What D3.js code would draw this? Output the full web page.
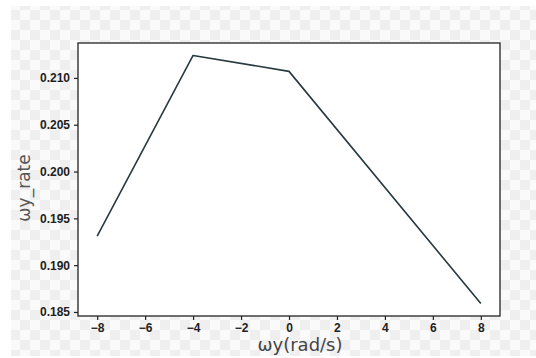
<!DOCTYPE html>
<meta charset="utf-8">
<html>
<head>
<style>
    body { margin: 0; background: #fff; }
    svg { display: block; font-family: "DejaVu Sans", sans-serif; }
</style>
</head>
<body>
<svg width="536" height="358" id="chart"></svg>
<script src="https://d3js.org/d3.v7.min.js"></script>
<script>
    // data
    var wy = [-8, -4, 0, 8];
    var rate = [0.1931, 0.2124, 0.2107, 0.1859];
    var xTicks = [-8, -6, -4, -2, 0, 2, 4, 6, 8];
    var yTicks = [0.185, 0.190, 0.195, 0.200, 0.205, 0.210];

    var svg = d3.select("#chart");
    var margin = { top: 43, right: 36, bottom: 42, left: 78 },
        width = 536 - margin.left - margin.right,
        height = 358 - margin.top - margin.bottom;

    // faint checkerboard behind everything (transparent png look)
    var defs = svg.append("defs");
    var pat = defs.append("pattern")
        .attr("id", "checker")
        .attr("width", 20).attr("height", 20)
        .attr("patternUnits", "userSpaceOnUse");
    pat.append("rect").attr("width", 20).attr("height", 20).attr("fill", "#fafafa");
    pat.append("rect").attr("width", 10).attr("height", 10).attr("fill", "#efefef");
    pat.append("rect").attr("x", 10).attr("y", 10).attr("width", 10).attr("height", 10).attr("fill", "#efefef");
    svg.append("rect")
        .attr("x", 11).attr("y", 6)
        .attr("width", 525).attr("height", 350)
        .attr("fill", "url(#checker)");

    var x = d3.scaleLinear().domain([-8.8, 8.8]).range([0, width]);
    var y = d3.scaleLinear().domain([0.18457, 0.21373]).range([height, 0]);

    var g = svg.append("g")
        .attr("transform", "translate(" + margin.left + "," + margin.top + ")");

    g.append("rect")
        .attr("width", width).attr("height", height)
        .attr("fill", "#fff");

    /* line */
    var line = d3.line()
        .x(function (d, i) { return x(wy[i]); })
        .y(function (d) { return y(d); });
    g.append("path")
        .datum(rate)
        .attr("d", line)
        .attr("fill", "none")
        .attr("stroke", "#263a40")
        .attr("stroke-width", 1.6)
        .attr("stroke-linejoin", "round");

    /* axes */
    var xAxis = g.append("g")
        .attr("transform", "translate(0," + height + ")")
        .call(d3.axisBottom(x).tickValues(xTicks).tickSize(4).tickPadding(3)
            .tickFormat(function (d) { return d < 0 ? "\u2212" + Math.abs(d) : d; }));
    var yAxis = g.append("g")
        .call(d3.axisLeft(y).tickValues(yTicks).tickSize(4).tickPadding(4)
            .tickFormat(d3.format(".3f")));

    [xAxis, yAxis].forEach(function (a) {
        a.select(".domain").remove();
        a.selectAll("line").attr("stroke", "#222").attr("stroke-width", 1.2);
        a.selectAll("text")
            .attr("fill", "#1e1e1e")
            .style("font-size", "12px")
            .style("font-weight", "600");
    });

    // frame
    g.append("rect")
        .attr("width", width).attr("height", height)
        .attr("fill", "none")
        .attr("stroke", "#222")
        .attr("stroke-width", 1.3);

    /* labels */
    svg.append("text")
        .attr("x", 300).attr("y", 351)
        .attr("text-anchor", "middle")
        .attr("fill", "#444")
        .style("font-size", "18px")
        .text("ωy(rad/s)");
    svg.append("text")
        .attr("transform", "translate(30,188) rotate(-90)")
        .attr("text-anchor", "middle")
        .attr("fill", "#555")
        .style("font-size", "17px")
        .text("ωy_rate");
</script>
</body>
</html>
